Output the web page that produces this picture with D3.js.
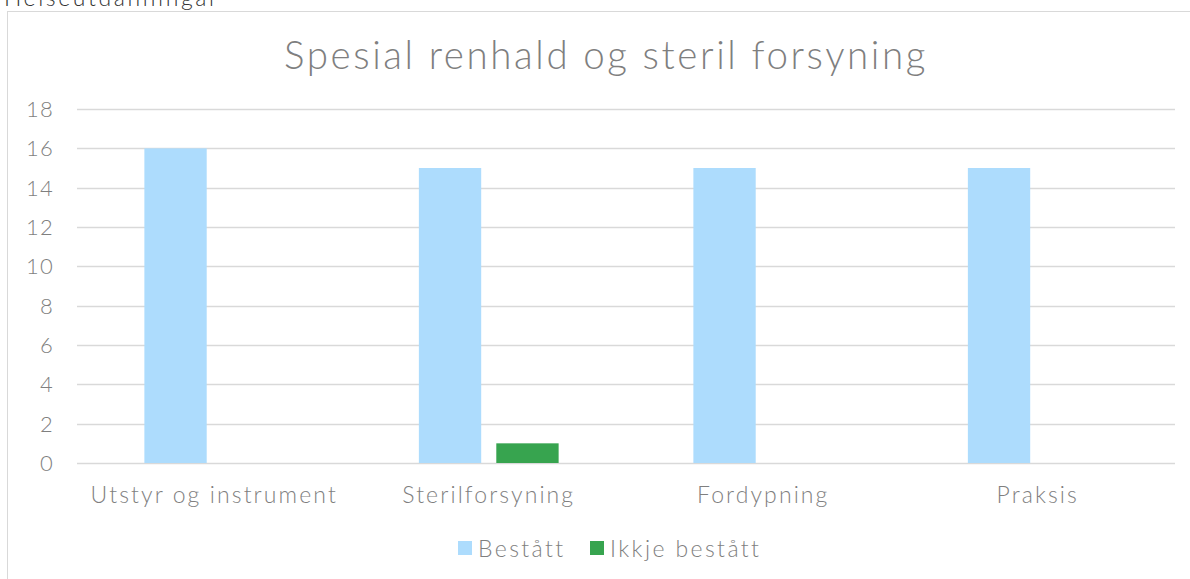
<!DOCTYPE html>
<html>
<head>
<meta charset="utf-8">
<script src="https://cdn.jsdelivr.net/npm/d3@7.9.0/dist/d3.min.js"></script>
<style>
  body { margin: 0; background: #fff; }
  svg { display: block; font-family: Lato, "Open Sans", sans-serif; font-weight: 300; }
</style>
</head>
<body>
<svg id="chart" width="1190" height="579"></svg>
<script>
const categories = ['Utstyr og instrument', 'Sterilforsyning', 'Fordypning', 'Praksis'];
const seriesNames = ['Bestått', 'Ikkje bestått'];
const bestatt = [16, 15, 15, 15];
const ikkjeBestatt = [0, 1, 0, 0];
const yTicks = [0, 2, 4, 6, 8, 10, 12, 14, 16, 18];
const colors = ['#addcfd', '#37a44f'];

const svg = d3.select('#chart');
const margin = { left: 77, right: 15, top: 109, bottom: 116 };
const width = 1190, height = 579;

// page header, cut off above the chart frame
svg.append('text')
  .attr('x', 4).attr('y', 6)
  .attr('font-size', 23).attr('fill', '#333')
  .attr('letter-spacing', 2.6)
  .text('Helseutdanningar');

// chart frame
svg.append('rect')
  .attr('x', 7.5).attr('y', 11.5)
  .attr('width', 1200).attr('height', 600)
  .attr('fill', 'none').attr('stroke', '#d9d9d9');

svg.append('text')
  .attr('x', 606).attr('y', 69)
  .attr('text-anchor', 'middle')
  .attr('font-size', 38.5).attr('fill', '#7f7f7f')
  .attr('letter-spacing', 2.6)
  .text('Spesial renhald og steril forsyning');

const x = d3.scaleBand()
  .domain(categories)
  .range([margin.left, width - margin.right]);

const y = d3.scaleLinear()
  .domain([0, 18])
  .range([height - margin.bottom, margin.top]);

const x1 = d3.scaleBand()
  .domain(seriesNames)
  .range([0, x.bandwidth()])
  .paddingInner(0.195)
  .paddingOuter(0.87);

// gridlines
svg.append('g')
  .selectAll('line')
  .data(yTicks)
  .join('line')
  .attr('x1', margin.left).attr('x2', width - margin.right)
  .attr('y1', d => Math.round(y(d)) + 0.5).attr('y2', d => Math.round(y(d)) + 0.5)
  .attr('stroke', '#d9d9d9').attr('stroke-width', 1.5);

// y labels
svg.append('g')
  .selectAll('text')
  .data(yTicks)
  .join('text')
  .attr('x', 54).attr('y', d => y(d) + 8)
  .attr('text-anchor', 'end')
  .attr('font-size', 22).attr('fill', '#7f7f7f')
  .attr('letter-spacing', 1.2)
  .text(d => d);

const rows = categories.map((c, i) => ({ cat: c, values: [bestatt[i], ikkjeBestatt[i]] }));

svg.append('g')
  .selectAll('g')
  .data(rows)
  .join('g')
  .attr('transform', d => `translate(${x(d.cat)},0)`)
  .selectAll('rect')
  .data(d => d.values.map((v, j) => ({ key: seriesNames[j], v, j })))
  .join('rect')
  .attr('x', d => x1(d.key))
  .attr('width', x1.bandwidth())
  .attr('y', d => y(d.v))
  .attr('height', d => y(0) - y(d.v))
  .attr('fill', d => colors[d.j]);

// category labels
svg.append('g')
  .selectAll('text')
  .data(categories)
  .join('text')
  .attr('x', d => x(d) + x.bandwidth() / 2)
  .attr('y', 503)
  .attr('text-anchor', 'middle')
  .attr('font-size', 23).attr('fill', '#7f7f7f')
  .attr('letter-spacing', 2.1)
  .text(d => d);

// legend
const legend = svg.append('g');
const legendX = [458, 590];
seriesNames.forEach((name, i) => {
  legend.append('rect')
    .attr('x', legendX[i]).attr('y', 541)
    .attr('width', 14).attr('height', 14)
    .attr('fill', colors[i]);
  legend.append('text')
    .attr('x', legendX[i] + 20).attr('y', 557)
    .attr('font-size', 23).attr('fill', '#7f7f7f')
    .attr('letter-spacing', 2.4)
    .text(name);
});
</script>
</body>
</html>
